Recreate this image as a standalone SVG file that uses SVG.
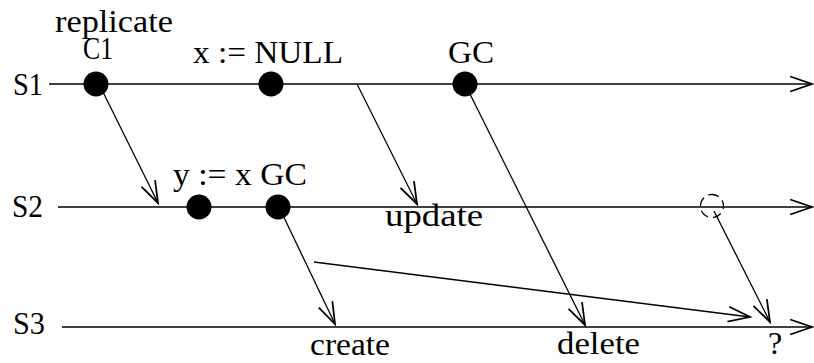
<svg xmlns="http://www.w3.org/2000/svg" width="814" height="363" viewBox="0 0 814 363">
<style>
text{font-family:"Liberation Serif","Times New Roman",serif;font-size:32px;fill:#000}
.tl{stroke:#000;stroke-width:1.4;fill:none}
.ar{stroke:#000;stroke-width:1.3;fill:none;marker-end:url(#ah)}
.dot{fill:#000}
</style>
<defs>
<marker id="ah" markerUnits="userSpaceOnUse" markerWidth="30" markerHeight="30" viewBox="-20 -10 22 20" refX="0" refY="0" orient="auto" overflow="visible">
<path d="M-16,-5.5 L0,0 L-16,5.5" fill="none" stroke="#000" stroke-width="1.3"/>
</marker>
</defs>
<rect width="814" height="363" fill="#fff"/>
<g id="timelines">
<line class="tl" x1="49" y1="84" x2="812" y2="84" marker-end="url(#ah)"/>
<line class="tl" x1="58" y1="207" x2="812" y2="207" marker-end="url(#ah)"/>
<line class="tl" x1="62" y1="327" x2="812" y2="327" marker-end="url(#ah)"/>
<text x="13" y="95" textLength="30" lengthAdjust="spacingAndGlyphs">S1</text>
<text x="12" y="217" textLength="31" lengthAdjust="spacingAndGlyphs">S2</text>
<text x="13" y="334" textLength="32" lengthAdjust="spacingAndGlyphs">S3</text>
</g>
<g id="connectors">
<line class="ar" x1="99" y1="84" x2="158" y2="203"/>
<line class="ar" x1="357" y1="84" x2="417" y2="204"/>
<line class="ar" x1="465" y1="84" x2="585" y2="325"/>
<line class="ar" x1="279" y1="207" x2="335" y2="324"/>
<line class="ar" x1="314" y1="262" x2="750" y2="317"/>
<line class="ar" x1="714" y1="211" x2="770" y2="322"/>
</g>
<g id="n-c1">
<circle class="dot" cx="96" cy="84" r="12.5"/>
<text x="55" y="32" textLength="118" lengthAdjust="spacingAndGlyphs">replicate</text>
<text x="83" y="59" font-size="28" textLength="30" lengthAdjust="spacingAndGlyphs">C1</text>
</g>
<g id="n-xnull">
<circle class="dot" cx="271" cy="84" r="12.5"/>
<text x="193" y="63" textLength="150" lengthAdjust="spacingAndGlyphs">x := NULL</text>
</g>
<g id="n-gc1">
<circle class="dot" cx="465" cy="84" r="12.5"/>
<text x="448" y="63" textLength="46" lengthAdjust="spacingAndGlyphs">GC</text>
</g>
<g id="n-yx">
<circle class="dot" cx="199" cy="207" r="12.5"/>
<text x="173" y="185" textLength="134" lengthAdjust="spacingAndGlyphs">y := x GC</text>
</g>
<g id="n-gc2">
<circle class="dot" cx="278" cy="207" r="12.5"/>
</g>
<g id="n-dashed">
<circle cx="712" cy="206" r="11.5" fill="none" stroke="#000" stroke-width="1.3" stroke-dasharray="9,5" transform="rotate(-100 712 206)"/>
</g>
<g id="labels">
<text x="385" y="226" textLength="98" lengthAdjust="spacingAndGlyphs">update</text>
<text x="310" y="355" textLength="80" lengthAdjust="spacingAndGlyphs">create</text>
<text x="557" y="354" textLength="83" lengthAdjust="spacingAndGlyphs">delete</text>
<text x="768" y="354">?</text>
</g>
</svg>
